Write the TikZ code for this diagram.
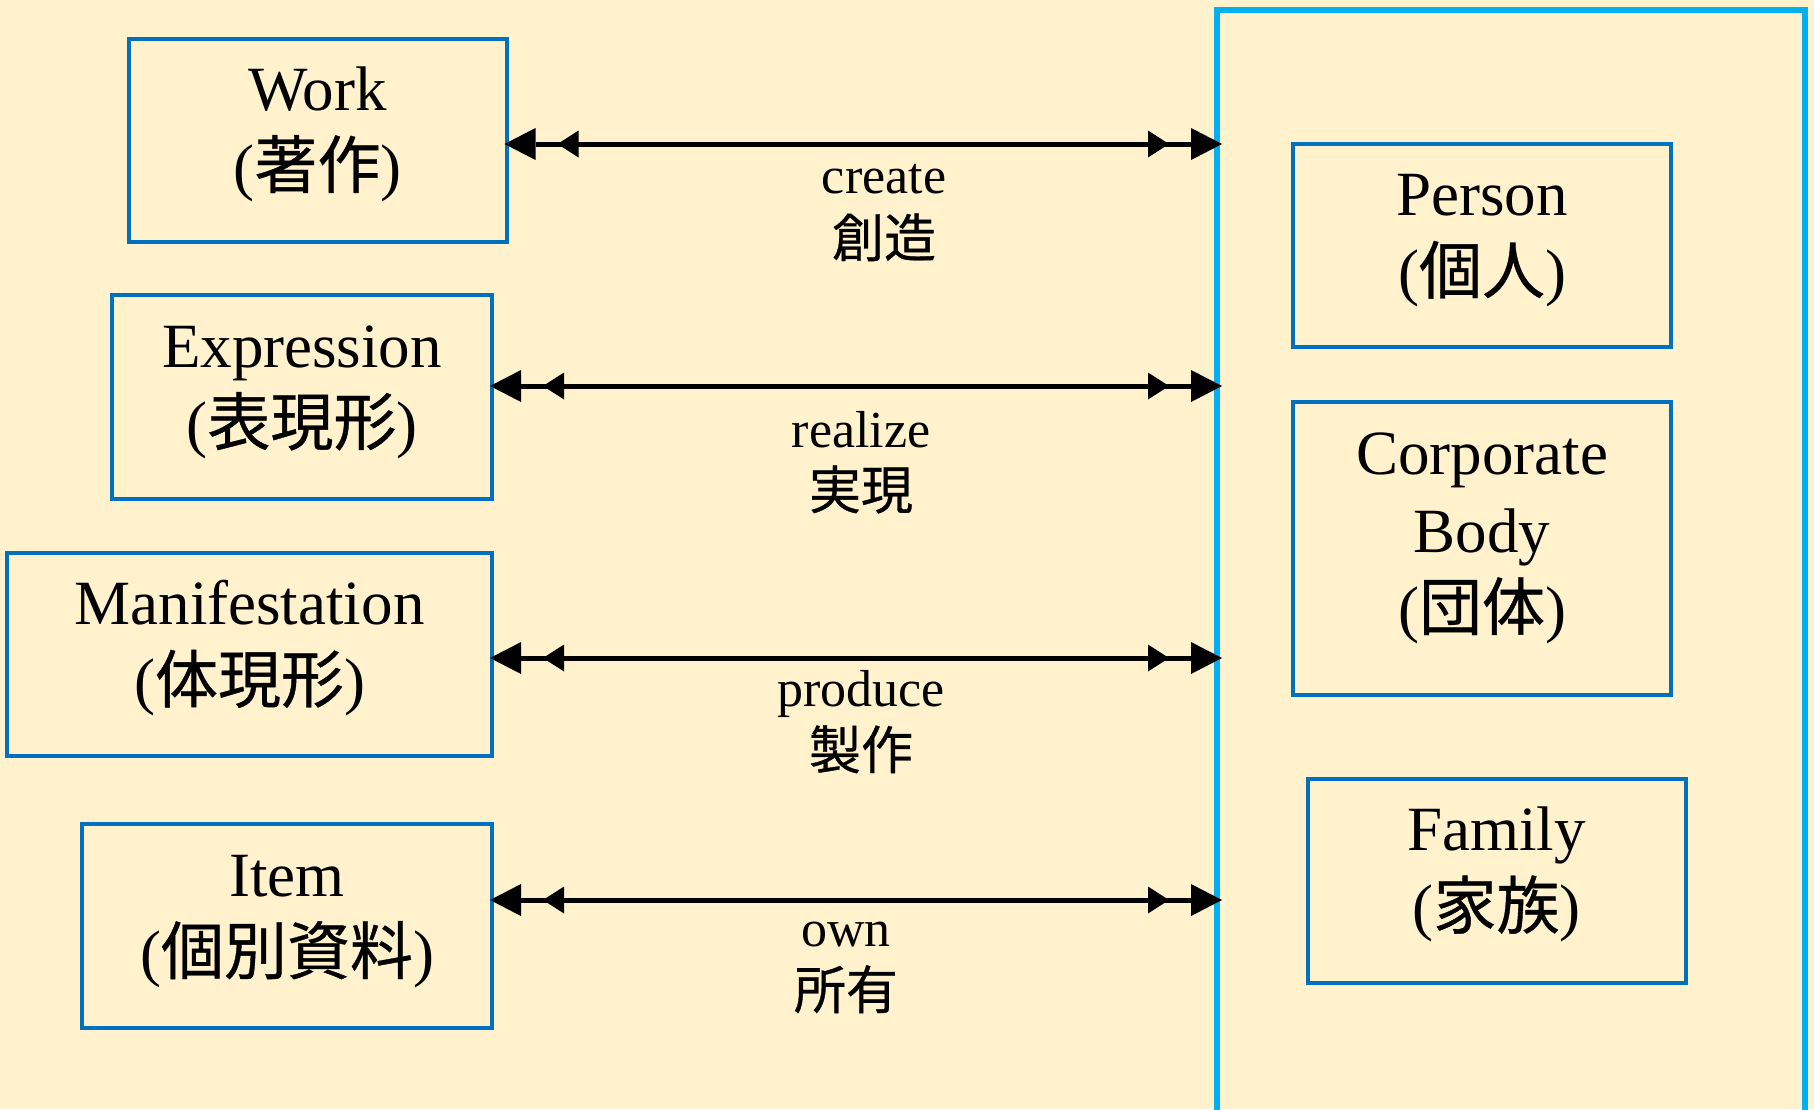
\documentclass[tikz,border=0pt]{standalone}
\usepackage{fontspec}
\setmainfont{Liberation Serif}
\newfontfamily\cjk[FakeBold=0.6]{Noto Sans CJK JP}
\usetikzlibrary{arrows.meta,calc}
\definecolor{bg}{HTML}{FFF2CC}
\definecolor{boxblue}{HTML}{0070C0}
\definecolor{frameblue}{HTML}{00B0F0}
\begin{document}
\begin{tikzpicture}[x=1pt,y=-1pt,
  entity/.style={draw=boxblue, line width=4pt, rectangle, inner sep=0pt,
                 minimum width=378pt, minimum height=203pt},
  outerframe/.style={draw=frameblue, line width=6pt, rectangle, inner sep=0pt},
  big/.style={font=\fontsize{63}{79}\selectfont, anchor=base, inner sep=0pt},
  small/.style={font=\fontsize{52}{63}\selectfont, anchor=base, inner sep=0pt},
  rel/.style={line width=5pt, shorten <=-4pt, shorten >=-8pt,
    {Triangle[length=31pt,width=32pt,line width=0pt] Triangle[length=21pt,width=27pt,line width=0pt,sep=22pt]}-{Triangle[length=21pt,width=27pt,line width=0pt,sep=22pt] Triangle[length=31pt,width=32pt,line width=0pt]}}]
\useasboundingbox (0,0) rectangle (1814,1109);
\clip (0,0) rectangle (1814,1109);
\fill[bg] (0,0) rectangle (1814,1109);

% outer frame (responsible parties)
\node[outerframe, minimum width=588pt, minimum height=1200pt] (frame) at (1511,610) {};

% left entities
\node[entity] (work) at (317.5,140) {};
\node[entity, minimum width=380pt, minimum height=204pt] (expr) at (302,397) {};
\node[entity, minimum width=485pt] (mani) at (249.5,654.5) {};
\node[entity, minimum width=410pt, minimum height=204pt] (item) at (287,926) {};

% right entities
\node[entity] (person) at (1482,245.5) {};
\node[entity, minimum height=293pt] (corp) at (1482,548) {};
\node[entity, minimum height=204pt] (family) at (1496.5,880.5) {};

% texts in boxes
\node[big] (workA) at ($(work.center)+(0,-30)$) {Work};
\node[big] (workB) at ($(work.center)+(0,48)$) {({\cjk 著作})};
\node[big] (exprA) at ($(expr.center)+(0,-30)$) {Expression};
\node[big] (exprB) at ($(expr.center)+(0,48)$) {({\cjk 表現形})};
\node[big] (maniA) at ($(mani.center)+(0,-30)$) {Manifestation};
\node[big] (maniB) at ($(mani.center)+(0,48)$) {({\cjk 体現形})};
\node[big] (itemA) at ($(item.center)+(0,-30)$) {Item};
\node[big] (itemB) at ($(item.center)+(0,48)$) {({\cjk 個別資料})};
\node[big] (personA) at ($(person.center)+(0,-30)$) {Person};
\node[big] (personB) at ($(person.center)+(0,48)$) {({\cjk 個人})};
\node[big] (corpA) at ($(corp.center)+(0,-74)$) {Corporate};
\node[big] (corpB) at ($(corp.center)+(0,4)$) {Body};
\node[big] (corpC) at ($(corp.center)+(0,82)$) {({\cjk 団体})};
\node[big] (familyA) at ($(family.center)+(0,-30)$) {Family};
\node[big] (familyB) at ($(family.center)+(0,48)$) {({\cjk 家族})};

% relationship end points on the frame
\coordinate (f1) at (frame.west |- 0,144);
\coordinate (f2) at (frame.west |- 0,386);
\coordinate (f3) at (frame.west |- 0,658);
\coordinate (f4) at (frame.west |- 0,900);

\draw[rel] (work.east |- f1) -- (f1);
\draw[rel] (expr.east |- f2) -- (f2);
\draw[rel] (mani.east |- f3) -- (f3);
\draw[rel] (item.east |- f4) -- (f4);

% relationship labels
\node[small] (l1a) at (884,193) {create};
\node[small] (l1b) at (884,257) {\cjk 創造};
\node[small] (l2a) at (861,447) {realize};
\node[small] (l2b) at (861,509) {\cjk 実現};
\node[small] (l3a) at (861,706) {produce};
\node[small] (l3b) at (861,769) {\cjk 製作};
\node[small] (l4a) at (846,946) {own};
\node[small] (l4b) at (846,1009) {\cjk 所有};
\end{tikzpicture}
\end{document}
